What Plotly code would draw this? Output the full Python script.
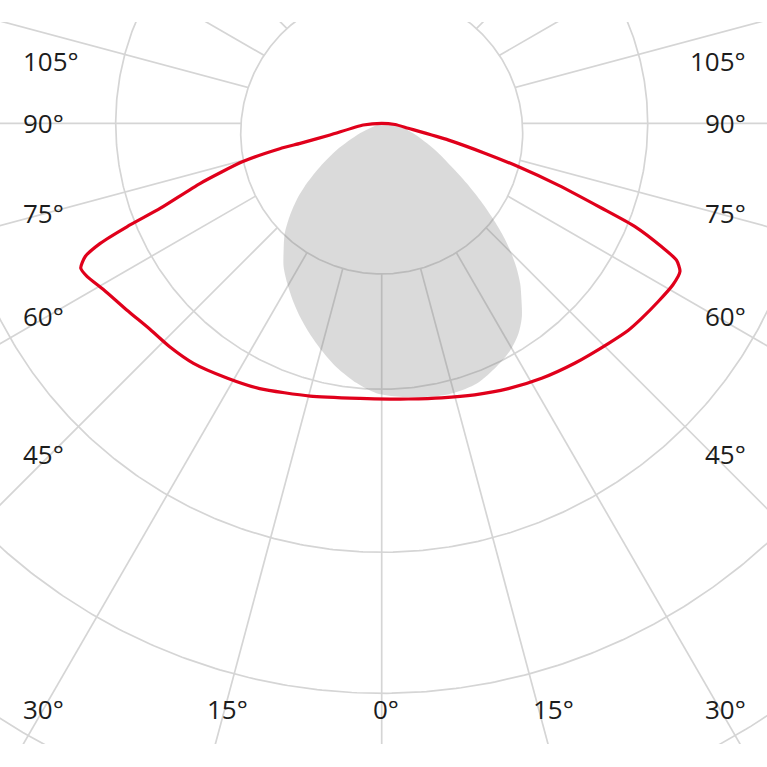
import numpy as np
import plotly.graph_objects as go

# ---------------- data (angle from nadir in degrees, + = right side) ----------------
red_angle = [-90, -84.7, -77.2, -76.2, -76.0, -74.6, -71.7, -69.0, -67.9, -66.9, -65.8,
             -64.3, -62.5, -59.1, -53.8, -48.3, -43.5, -38.1, -31.3, -24.7, -14.7, -4.5,
             1.7, 5.5, 12.3, 18.9, 25.5, 32.1, 38.9, 45.8, 50.0, 53.1, 57.2, 61.0, 63.6,
             65.1, 66.2, 67.8, 68.9, 70.7, 72.4, 73.8, 75.9, 79.4, 84.8, 90]
red_value = [0, 18.5, 53, 84, 105, 144, 191, 237, 275, 306, 325,
             334, 332, 324, 316, 310, 308, 305, 298, 292, 282, 276,
             276, 277, 281, 287, 294, 301, 308, 316, 322, 325, 329, 333, 333,
             325, 306, 274, 236, 187, 143, 108, 69, 27, 13.4, 0]

blob_angle = [-70, -65.3, -59.3, -54.9, -51.3, -47.9, -44.7, -41.3, -37.8, -34.3, -30.5,
              -26.7, -22.9, -19.0, -14.8, -10.5, -5.5, -1.1, 3.8, 10.7, 14.9, 20.1, 25.3,
              29.5, 33.0, 35.9, 38.4, 40.8, 43.1, 45.4, 47.5, 49.7, 52.0, 54.8, 58.2,
              63.4, 72.4, 79.5, 88]
blob_value = [5, 24, 52, 75, 96, 115, 131, 147, 160, 174, 186,
              198, 210, 222, 235, 248, 261, 270, 274, 278, 279, 277, 269,
              261, 251, 239, 225, 212, 197, 180, 163, 144, 125, 104, 82,
              60, 33, 19, 3]

grid_radii = [266, 429, 570, 707]
inner_radius = 141
spoke_angles = list(range(0, 360, 15))

left_labels = ["105°", "90°", "75°", "60°", "45°", "30°"]
bottom_labels = ["15°", "0°", "15°"]
right_labels = ["105°", "90°", "75°", "60°", "45°", "30°"]

# ---------------- layout helpers (positions, not data) ----------------
CX, CY = 381.7, 123.3          # pixel position of the luminaire centre
INNER_DY = -9.7                # inner ring centre offset (downwards)
side_label_py = [60.5, 123.2, 212.8, 316.2, 454.4, 709.4]
bottom_label_py = 709.4
bottom_label_px = [227, 386, 553]
GRID = "#d5d5d5"


def to_xy(theta_deg, r):
    t = np.radians(np.asarray(theta_deg, dtype=float))
    r = np.asarray(r, dtype=float)
    return r * np.sin(t), -r * np.cos(t)


fig = go.Figure()

# spokes
sx, sy = [], []
for a in spoke_angles:
    x1, y1 = to_xy(a, 1200)
    sx += [0, float(x1), None]
    sy += [0, float(y1), None]
fig.add_trace(go.Scatter(x=sx, y=sy, mode="lines", line=dict(color=GRID, width=1.7),
                         hoverinfo="skip", showlegend=False))

# concentric rings
t = np.linspace(0, 2 * np.pi, 721)
cx_, cy_ = [], []
for R in grid_radii:
    cx_ += list(R * np.cos(t)) + [None]
    cy_ += list(R * np.sin(t)) + [None]
fig.add_trace(go.Scatter(x=cx_, y=cy_, mode="lines", line=dict(color=GRID, width=1.7),
                         hoverinfo="skip", showlegend=False))

# inner ring (white disk hides spokes)
fig.add_trace(go.Scatter(x=inner_radius * np.cos(t), y=INNER_DY + inner_radius * np.sin(t),
                         mode="lines", fill="toself", fillcolor="white",
                         line=dict(color=GRID, width=1.7), hoverinfo="skip", showlegend=False))

# grey distribution (C0-C180)
bx, by = to_xy(blob_angle, blob_value)
fig.add_trace(go.Scatter(x=bx, y=by, mode="lines", fill="toself",
                         fillcolor="rgba(118,118,118,0.27)",
                         line=dict(color="rgba(0,0,0,0)", width=0, shape="spline", smoothing=0.8),
                         hoverinfo="skip", showlegend=False))

# red distribution (C90-C270)
rx, ry = to_xy(red_angle, red_value)
fig.add_trace(go.Scatter(x=rx, y=ry, mode="lines",
                         line=dict(color="#e0001b", width=3.2, shape="spline", smoothing=0.6),
                         hoverinfo="skip", showlegend=False))

# labels
font = dict(family="Open Sans", size=26, color="#1c1c1c")
ann = []
for txt, py in zip(left_labels, side_label_py):
    ann.append(dict(x=21 - CX, y=CY - py, text=txt, showarrow=False, xanchor="left",
                    yanchor="middle", font=font))
for txt, py in zip(right_labels, side_label_py):
    ann.append(dict(x=748 - CX, y=CY - py, text=txt, showarrow=False, xanchor="right",
                    yanchor="middle", font=font))
for txt, px in zip(bottom_labels, bottom_label_px):
    ann.append(dict(x=px - CX, y=CY - bottom_label_py, text=txt, showarrow=False,
                    xanchor="center", yanchor="middle", font=font))

fig.update_layout(
    width=767, height=767,
    margin=dict(l=0, r=0, t=22, b=23),
    paper_bgcolor="white", plot_bgcolor="white",
    xaxis=dict(range=[-CX, 767 - CX], visible=False, fixedrange=True),
    yaxis=dict(range=[CY - 744, CY - 22], visible=False, fixedrange=True),
    annotations=ann,
    showlegend=False,
)

fig.write_html("out.html", config={"displayModeBar": False},
               post_script="document.body.style.margin='0';")
